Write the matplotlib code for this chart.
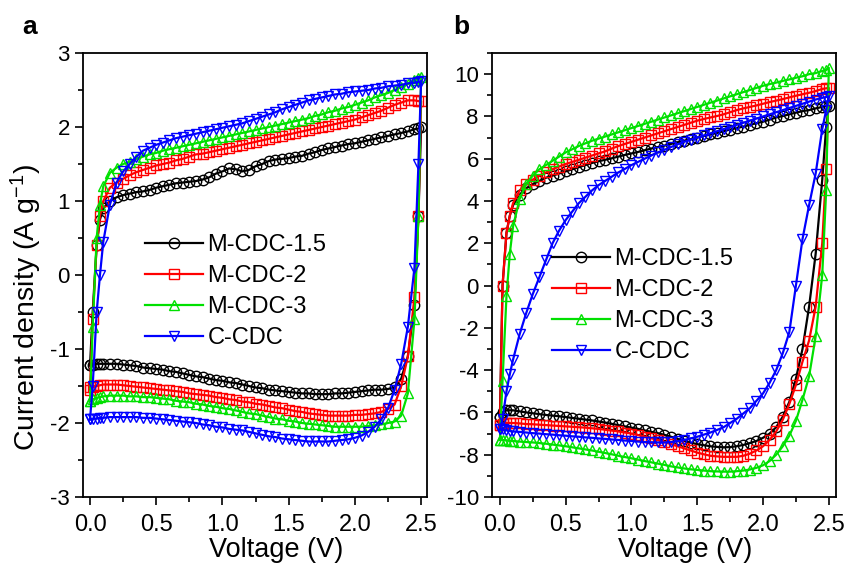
import matplotlib
matplotlib.use("Agg")
import matplotlib.pyplot as plt
from matplotlib.ticker import MultipleLocator, FormatStrFormatter

plt.rcParams['font.family'] = ['Liberation Sans', 'DejaVu Sans']
plt.rcParams['mathtext.default'] = 'regular'
plt.rcParams['axes.unicode_minus'] = False

# voltage points read along each branch (V)
volt = [0.0, 0.02, 0.05, 0.075, 0.1,
        0.15, 0.2, 0.25, 0.3, 0.35, 0.4, 0.45, 0.5, 0.55, 0.6,
        0.65, 0.7, 0.75, 0.8, 0.85, 0.9, 0.95, 1.0, 1.05, 1.1,
        1.15, 1.2, 1.25, 1.3, 1.35, 1.4, 1.45, 1.5, 1.55, 1.6,
        1.65, 1.7, 1.75, 1.8, 1.85, 1.9, 1.95, 2.0, 2.05, 2.1,
        2.15, 2.2, 2.25, 2.3, 2.35, 2.4,
        2.45, 2.48, 2.5]

labels = ["M-CDC-1.5", "M-CDC-2", "M-CDC-3", "C-CDC"]

# ---- panel a: forward (0 -> 2.5 V) and reverse branch currents, A/g ----
a_fwd_15 = [-1.22, -0.5, 0.4, 0.75, 0.9,
            1.0, 1.05, 1.08, 1.1, 1.12, 1.13, 1.15, 1.18, 1.2, 1.22,
            1.24, 1.25, 1.26, 1.27, 1.29, 1.32, 1.37, 1.4, 1.44, 1.43,
            1.40, 1.42, 1.47, 1.5, 1.54, 1.56, 1.57, 1.58, 1.6, 1.61,
            1.64, 1.66, 1.69, 1.71, 1.73, 1.75, 1.77, 1.78, 1.8, 1.82,
            1.84, 1.86, 1.88, 1.9, 1.92, 1.94,
            1.97, 1.98, 2.0]
a_rev_15 = [-1.22, -1.21, -1.2, -1.2, -1.2,
            -1.2, -1.2, -1.21, -1.22, -1.23, -1.25, -1.26, -1.27, -1.28, -1.3,
            -1.31, -1.33, -1.35, -1.37, -1.38, -1.4, -1.42, -1.43, -1.45, -1.46,
            -1.48, -1.5, -1.52, -1.53, -1.55, -1.56, -1.57, -1.58, -1.59, -1.6,
            -1.6, -1.61, -1.61, -1.61, -1.6, -1.6, -1.59, -1.58, -1.57, -1.56,
            -1.55, -1.55, -1.54, -1.52, -1.4, -1.1,
            -0.4, 0.8, 2.0]
a_fwd_2 = [-1.52, -0.6, 0.4, 0.8, 1.0,
           1.18, 1.25, 1.3, 1.35, 1.39, 1.42, 1.45, 1.48, 1.5, 1.52,
           1.55, 1.57, 1.6, 1.63, 1.64, 1.66, 1.68, 1.7, 1.72, 1.74,
           1.76, 1.78, 1.8, 1.82, 1.84, 1.86, 1.88, 1.9, 1.92, 1.94,
           1.96, 1.98, 2.0, 2.02, 2.04, 2.06, 2.08, 2.1, 2.13, 2.16,
           2.19, 2.22, 2.26, 2.3, 2.33, 2.36,
           2.36, 2.35, 2.35]
a_rev_2 = [-1.55, -1.52, -1.5, -1.49, -1.48,
           -1.48, -1.48, -1.49, -1.5, -1.51, -1.52, -1.53, -1.54, -1.55, -1.56,
           -1.57, -1.58, -1.6, -1.61, -1.62, -1.63, -1.65, -1.66, -1.68, -1.69,
           -1.71, -1.72, -1.74, -1.75, -1.77, -1.79, -1.8, -1.82, -1.84, -1.85,
           -1.87, -1.88, -1.89, -1.9, -1.9, -1.9, -1.9, -1.89, -1.89, -1.88,
           -1.87, -1.85, -1.81, -1.75, -1.5, -1.1,
           -0.3, 0.8, 2.35]
a_fwd_3 = [-1.7, -0.7, 0.5, 0.95, 1.2,
           1.38, 1.45, 1.5, 1.53, 1.57, 1.6, 1.63, 1.65, 1.68, 1.7,
           1.72, 1.74, 1.76, 1.78, 1.8, 1.82, 1.84, 1.86, 1.88, 1.9,
           1.92, 1.94, 1.96, 1.98, 2.0, 2.02, 2.04, 2.06, 2.08, 2.1,
           2.12, 2.15, 2.17, 2.2, 2.22, 2.25, 2.27, 2.3, 2.33, 2.36,
           2.4, 2.43, 2.46, 2.5, 2.54, 2.58,
           2.63, 2.66, 2.68]
a_rev_3 = [-1.7, -1.68, -1.66, -1.65, -1.64,
           -1.63, -1.63, -1.63, -1.64, -1.64, -1.65, -1.65, -1.66, -1.67, -1.68,
           -1.7, -1.71, -1.72, -1.74, -1.75, -1.77, -1.78, -1.8, -1.81, -1.83,
           -1.85, -1.87, -1.88, -1.9, -1.92, -1.94, -1.95, -1.97, -1.98, -2.0,
           -2.01, -2.02, -2.03, -2.04, -2.05, -2.05, -2.05, -2.05, -2.05, -2.04,
           -2.03, -2.02, -2.0, -1.98, -1.9, -1.6,
           -0.6, 0.8, 2.68]
a_fwd_c = [-1.95, -1.5, -0.5, 0.0, 0.45,
           0.95, 1.25, 1.4, 1.5, 1.6, 1.68, 1.72, 1.76, 1.79, 1.82,
           1.85, 1.87, 1.89, 1.91, 1.93, 1.95, 1.97, 1.99, 2.01, 2.03,
           2.05, 2.08, 2.11, 2.14, 2.17, 2.2, 2.24, 2.27, 2.3, 2.33,
           2.36, 2.38, 2.4, 2.42, 2.44, 2.45, 2.47, 2.48, 2.49, 2.5,
           2.52, 2.53, 2.55, 2.56, 2.57, 2.59,
           2.6, 2.61, 2.62]
a_rev_c = [-1.95, -1.94, -1.94, -1.93, -1.93,
           -1.92, -1.92, -1.92, -1.92, -1.92, -1.93, -1.93, -1.94, -1.95, -1.96,
           -1.97, -1.98, -1.99, -2.0, -2.02, -2.03, -2.05, -2.06, -2.08, -2.09,
           -2.1, -2.12, -2.14, -2.16, -2.18, -2.19, -2.21, -2.22, -2.23, -2.24,
           -2.25, -2.25, -2.25, -2.25, -2.24, -2.23, -2.22, -2.2, -2.17, -2.12,
           -2.05, -1.95, -1.8, -1.55, -1.2, -0.7,
           0.1, 1.5, 2.62]

# ---- panel b ----
b_fwd_15 = [-6.2, 0.0, 2.5, 3.3, 3.8,
            4.3, 4.6, 4.8, 4.95, 5.1, 5.2, 5.3, 5.4, 5.5, 5.6,
            5.7, 5.8, 5.88, 5.95, 6.02, 6.1, 6.18, 6.25, 6.32, 6.4,
            6.48, 6.55, 6.62, 6.7, 6.78, 6.85, 6.92, 7.0, 7.08, 7.15,
            7.22, 7.3, 7.38, 7.45, 7.52, 7.6, 7.68, 7.75, 7.85, 7.95,
            8.02, 8.1, 8.18, 8.25, 8.3, 8.38,
            8.45, 8.5, 8.5]
b_rev_15 = [-6.2, -6.0, -5.9, -5.9, -5.9,
            -5.95, -6.0, -6.04, -6.08, -6.12, -6.15, -6.18, -6.22, -6.26, -6.3,
            -6.34, -6.38, -6.43, -6.48, -6.54, -6.6, -6.66, -6.72, -6.78, -6.85,
            -6.92, -6.98, -7.06, -7.15, -7.25, -7.35, -7.43, -7.5, -7.55, -7.6,
            -7.63, -7.65, -7.64, -7.6, -7.54, -7.45, -7.35, -7.2, -7.0, -6.7,
            -6.2, -5.5, -4.4, -3.0, -1.0, 1.5,
            5.0, 7.5, 8.5]
b_fwd_2 = [-6.6, 0.0, 2.5, 3.3, 3.9,
           4.5, 4.8, 5.0, 5.2, 5.35, 5.5, 5.63, 5.75, 5.85, 5.95,
           6.05, 6.15, 6.25, 6.35, 6.48, 6.6, 6.7, 6.8, 6.9, 7.0,
           7.1, 7.2, 7.3, 7.4, 7.5, 7.6, 7.7, 7.8, 7.88, 7.95,
           8.02, 8.1, 8.2, 8.3, 8.38, 8.45, 8.52, 8.6, 8.68, 8.75,
           8.82, 8.9, 8.98, 9.05, 9.12, 9.2,
           9.3, 9.33, 9.35]
b_rev_2 = [-6.6, -6.55, -6.5, -6.5, -6.5,
           -6.52, -6.55, -6.56, -6.58, -6.6, -6.62, -6.64, -6.66, -6.68, -6.7,
           -6.72, -6.75, -6.78, -6.82, -6.86, -6.9, -6.95, -7.0, -7.07, -7.15,
           -7.22, -7.3, -7.4, -7.5, -7.6, -7.7, -7.8, -7.9, -7.98, -8.05,
           -8.08, -8.1, -8.1, -8.1, -8.05, -7.95, -7.8, -7.6, -7.3, -6.9,
           -6.35, -5.6, -4.7, -3.6, -2.6, -1.0,
           2.0, 5.5, 9.35]
b_fwd_3 = [-7.3, -4.5, -0.5, 1.5, 2.8,
           4.1, 4.8, 5.2, 5.5, 5.7, 5.9, 6.1, 6.3, 6.45, 6.6,
           6.73, 6.85, 6.95, 7.05, 7.15, 7.25, 7.35, 7.45, 7.55, 7.65,
           7.75, 7.85, 7.95, 8.05, 8.15, 8.25, 8.35, 8.45, 8.55, 8.65,
           8.75, 8.85, 8.95, 9.05, 9.15, 9.25, 9.35, 9.45, 9.53, 9.6,
           9.68, 9.75, 9.83, 9.9, 10.0, 10.05,
           10.15, 10.2, 10.3]
b_rev_3 = [-7.3, -7.3, -7.32, -7.33, -7.35,
           -7.38, -7.4, -7.42, -7.45, -7.48, -7.52, -7.56, -7.6, -7.65, -7.7,
           -7.75, -7.8, -7.86, -7.92, -7.98, -8.05, -8.11, -8.17, -8.23, -8.3,
           -8.36, -8.42, -8.48, -8.55, -8.6, -8.65, -8.69, -8.72, -8.75, -8.78,
           -8.79, -8.8, -8.8, -8.78, -8.75, -8.7, -8.62, -8.5, -8.3, -8.0,
           -7.6, -7.1, -6.4, -5.4, -4.3, -2.4,
           0.5, 4.5, 10.3]
b_fwd_c = [-6.8, -6.3, -5.0, -4.2, -3.5,
           -2.3, -1.3, -0.4, 0.4, 1.2, 2.0, 2.6, 3.1, 3.5, 3.9,
           4.2, 4.5, 4.75, 4.95, 5.15, 5.35, 5.52, 5.7, 5.85, 6.0,
           6.15, 6.3, 6.42, 6.55, 6.68, 6.8, 6.9, 7.0, 7.1, 7.2,
           7.3, 7.4, 7.5, 7.6, 7.7, 7.8, 7.9, 8.0, 8.1, 8.2,
           8.3, 8.4, 8.5, 8.6, 8.7, 8.8,
           8.88, 8.92, 8.95]
b_rev_c = [-6.8, -6.8, -6.85, -6.87, -6.9,
           -6.92, -6.95, -6.98, -7.0, -7.03, -7.05, -7.08, -7.1, -7.13, -7.15,
           -7.18, -7.2, -7.23, -7.25, -7.28, -7.3, -7.33, -7.35, -7.38, -7.4,
           -7.41, -7.42, -7.42, -7.4, -7.36, -7.3, -7.23, -7.15, -7.05, -6.95,
           -6.83, -6.7, -6.5, -6.3, -6.05, -5.8, -5.45, -5.1, -4.6, -4.0,
           -3.2, -2.2, 0.0, 2.2, 3.8, 5.3,
           7.4, 8.3, 8.95]

colors = ["black", "#ff0000", "#00e000", "#0000ff"]
markers = ["o", "s", "^", "v"]


def loop(fwd, rev):
    # forward sweep 0 -> 2.5 V, then back 2.5 -> 0 V
    x = volt + volt[::-1][1:]
    y = fwd + rev[::-1][1:]
    return x, y


fig = plt.figure(figsize=(8.48, 5.64), dpi=100)
ax_a = fig.add_axes([0.0979, 0.1188, 0.4057, 0.7872])
ax_b = fig.add_axes([0.5802, 0.1188, 0.4057, 0.7872])

panels = [
    (ax_a, [(a_fwd_15, a_rev_15), (a_fwd_2, a_rev_2), (a_fwd_3, a_rev_3), (a_fwd_c, a_rev_c)]),
    (ax_b, [(b_fwd_15, b_rev_15), (b_fwd_2, b_rev_2), (b_fwd_3, b_rev_3), (b_fwd_c, b_rev_c)]),
]

for ax, curves in panels:
    for (fwd, rev), c, m, lab in zip(curves, colors, markers, labels):
        x, y = loop(fwd, rev)
        ax.plot(x, y, color=c, marker=m, markersize=7.5, markerfacecolor="none",
                markeredgewidth=1.0, linewidth=1.6, label=lab)
    for s in ax.spines.values():
        s.set_linewidth(1.3)
    ax.tick_params(which="both", direction="out", top=False, right=False, width=1.2)
    ax.tick_params(which="major", length=6)
    ax.tick_params(which="minor", length=3.5)
    ax.tick_params(axis="x", labelsize=17, pad=6)
    ax.tick_params(axis="y", labelsize=16)
    ax.xaxis.set_major_locator(MultipleLocator(0.5))
    ax.xaxis.set_minor_locator(MultipleLocator(0.25))
    ax.xaxis.set_major_formatter(FormatStrFormatter("%.1f"))
    ax.set_xlabel("Voltage (V)", fontsize=19.5)
    ax.xaxis.set_label_coords(0.56, -0.09)

ax_a.set_xlim(-0.053, 2.545)
ax_a.set_ylim(-3, 3)
ax_a.yaxis.set_major_locator(MultipleLocator(1))
ax_a.yaxis.set_minor_locator(MultipleLocator(0.5))
ax_a.set_ylabel("Current density (A g$^{-1}$)", fontsize=20.5)
ax_a.yaxis.set_label_coords(-0.113, 0.426)

ax_b.set_xlim(-0.06, 2.555)
ax_b.set_ylim(-10, 11)
ax_b.yaxis.set_major_locator(MultipleLocator(2))
ax_b.yaxis.set_minor_locator(MultipleLocator(1))

leg_kw = dict(loc="upper left", frameon=False, fontsize=17, handlelength=2.45,
              handletextpad=0.2, labelspacing=0.38, borderpad=0, borderaxespad=0)
ax_a.legend(bbox_to_anchor=(0.18, 0.592), **leg_kw)
ax_b.legend(bbox_to_anchor=(0.174, 0.561), **leg_kw)

fig.text(22 / 848, 1 - 34 / 564, "a", fontsize=19, fontweight="bold", va="baseline")
fig.text(453 / 848, 1 - 34 / 564, "b", fontsize=19, fontweight="bold", va="baseline")

fig.savefig("out.png", dpi=100)
